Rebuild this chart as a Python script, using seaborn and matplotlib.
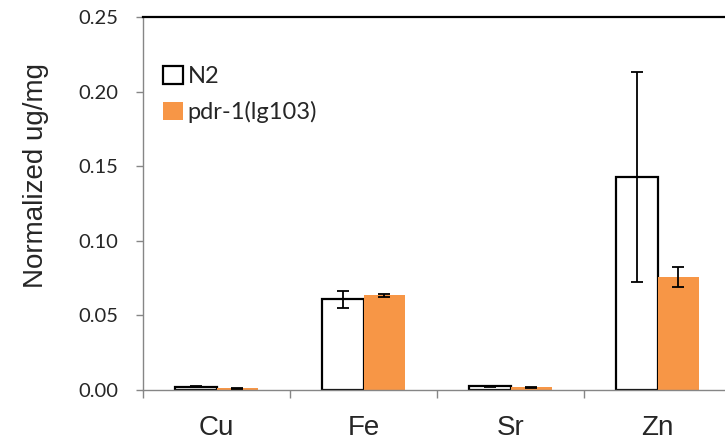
import numpy as np
import pandas as pd
import matplotlib
matplotlib.use("Agg")
import matplotlib.pyplot as plt
import seaborn as sns
from matplotlib.ticker import FixedLocator, FormatStrFormatter

elements = ["Cu", "Fe", "Sr", "Zn"]
strains = ["N2", "pdr-1(lg103)"]
n2_values = [0.0022, 0.0608, 0.0025, 0.1428]
n2_errors = [0.0003, 0.0058, 0.0004, 0.0706]
pdr_values = [0.0012, 0.0635, 0.0018, 0.0755]
pdr_errors = [0.0003, 0.0010, 0.0003, 0.0068]

df = pd.DataFrame({
    "element": elements * 2,
    "strain": [strains[0]] * 4 + [strains[1]] * 4,
    "value": n2_values + pdr_values,
    "err": n2_errors + pdr_errors,
})

sns.set_style("white")
plt.rcParams["font.family"] = ["Liberation Sans", "DejaVu Sans"]

fig = plt.figure(figsize=(7.25, 4.4), dpi=100)
ax = fig.add_axes([143 / 725, 50 / 440, 588 / 725, 373 / 440])

orange = "#F79646"
sns.barplot(data=df, x="element", y="value", hue="strain", order=elements,
            hue_order=strains, palette=["white", orange], saturation=1,
            width=0.57, errorbar=None, legend=False, ax=ax)

# style bars and add error bars
for i, (container, errs) in enumerate(zip(ax.containers, [n2_errors, pdr_errors])):
    for bar, e in zip(container, errs):
        if i == 0:
            bar.set_edgecolor("black")
            bar.set_linewidth(1.6)
        else:
            bar.set_edgecolor("none")
        ax.errorbar(bar.get_x() + bar.get_width() / 2, bar.get_height(), yerr=e,
                    fmt="none", ecolor="black", elinewidth=1.3, capsize=4.5,
                    capthick=1.3, zorder=5)

ax.set_xlim(-0.5, 3.5)
ax.set_ylim(0, 0.25)
ax.set_yticks(np.arange(0, 0.26, 0.05))
ax.yaxis.set_major_formatter(FormatStrFormatter("%.2f"))
ax.xaxis.set_minor_locator(FixedLocator([-0.5, 0.5, 1.5, 2.5, 3.5]))
ax.tick_params(axis="x", which="major", length=0, labelsize=20, pad=18)
ax.tick_params(axis="x", which="minor", length=6, width=1, color="#868686",
               direction="out", bottom=True)
ax.tick_params(axis="y", length=5, width=1, color="#868686", direction="out",
               left=True, labelsize=14.5, pad=13)
for lab in ax.get_yticklabels():
    lab.set_family(["Lato", "DejaVu Sans"])

ax.set_xlabel("")
ax.set_ylabel("Normalized ug/mg", fontsize=20)
ax.yaxis.set_label_coords(-0.16, 0.576)

for side in ["left", "bottom"]:
    ax.spines[side].set_color("#868686")
    ax.spines[side].set_linewidth(1)
ax.spines["top"].set_color("black")
ax.spines["top"].set_linewidth(1.6)
ax.spines["right"].set_visible(False)

handles = [ax.containers[0][0], ax.containers[1][0]]
leg = ax.legend(handles, strains, loc="upper left", bbox_to_anchor=(0.034, 0.869),
                frameon=False, borderpad=0, borderaxespad=0,
                handlelength=0.85, handleheight=0.8,
                handletextpad=0.2, labelspacing=0.6,
                prop={"family": ["Lato", "DejaVu Sans"], "size": 17})

fig.savefig("out.png", dpi=100)
